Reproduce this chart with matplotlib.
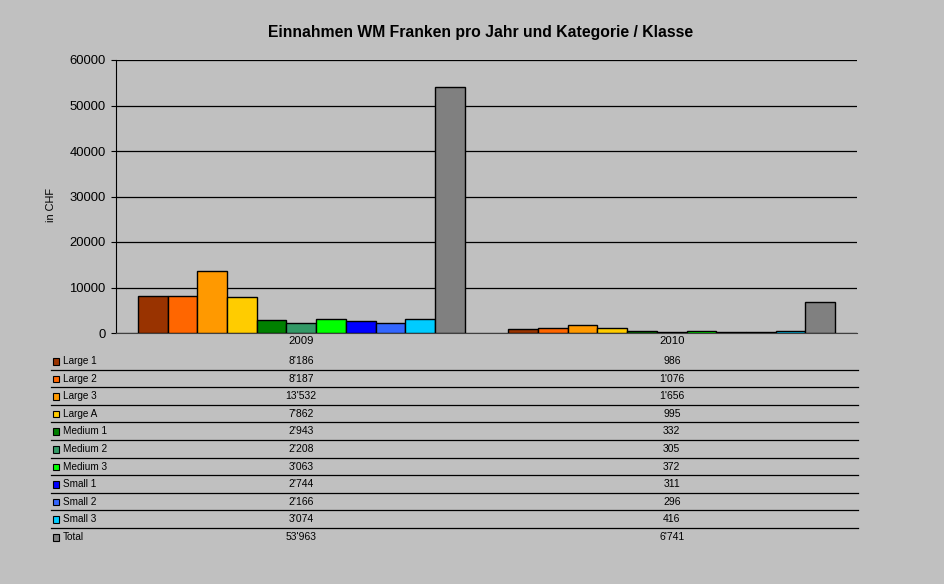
import matplotlib
matplotlib.use("Agg")
import matplotlib.pyplot as plt
from matplotlib.lines import Line2D
from matplotlib.patches import Rectangle
import matplotlib.transforms as mtransforms

plt.rcParams['font.family'] = ['Liberation Sans', 'DejaVu Sans']

years = ["2009", "2010"]
series = ["Large 1", "Large 2", "Large 3", "Large A", "Medium 1", "Medium 2",
          "Medium 3", "Small 1", "Small 2", "Small 3", "Total"]
values_2009 = [8186, 8187, 13532, 7862, 2943, 2208, 3063, 2744, 2166, 3074, 53963]
values_2010 = [986, 1076, 1656, 995, 332, 305, 372, 311, 296, 416, 6741]
colors = ["#993300", "#FF6600", "#FF9900", "#FFCC00", "#008000", "#339966",
          "#00FF00", "#0000FF", "#3366FF", "#00CCFF", "#808080"]
yticks = [0, 10000, 20000, 30000, 40000, 50000, 60000]

W, H = 944, 584
bg = "#C0C0C0"
fig = plt.figure(figsize=(W/100, H/100), dpi=100, facecolor=bg)
left, right, top, bottom = 116, 857, 60, 333
ax = fig.add_axes([left/W, 1-bottom/H, (right-left)/W, (bottom-top)/H])
ax.set_facecolor(bg)

n = len(series)
bw = 0.0802
for i in range(n):
    xs = [j + (i - (n-1)/2)*bw for j in range(len(years))]
    ax.bar(xs, [values_2009[i], values_2010[i]], width=bw, color=colors[i],
           edgecolor="black", linewidth=1.0, zorder=3)

ax.set_xlim(-0.5, 1.5)
ax.set_ylim(0, 60000)
ax.set_yticks(yticks)
ax.set_yticklabels([str(v) for v in yticks], fontsize=9.4)
ax.yaxis.grid(True, color="black", linewidth=0.9, zorder=0)
ax.set_axisbelow(True)
for s in ["top", "right"]:
    ax.spines[s].set_visible(False)
ax.spines["left"].set_color("black")
ax.spines["bottom"].set_color("#404040")
ax.tick_params(axis="y", length=3.5, width=0.8, pad=4, colors="black")
ax.set_xticks(range(len(years)))
ax.set_xticklabels(years, fontsize=8.2)
ax.tick_params(axis="x", length=0, pad=2)
ax.set_ylabel("in CHF", fontsize=7.9, va="center")
ax.yaxis.set_label_coords((51-left)/(right-left), (bottom-205)/(bottom-top))

fig.text(481/W, 1-33/H, "Einnahmen WM Franken pro Jahr und Kategorie / Klasse",
         ha="center", va="center", fontsize=11.3, fontweight="bold")

# data table
trans = mtransforms.blended_transform_factory(ax.transData, fig.transFigure)
row0 = 361.0
step = 17.6
for i in range(n):
    yc = row0 + i*step
    yf = 1 - yc/H
    fig.patches.append(Rectangle((53/W, 1-(yc+3.5)/H), 6.5/W, 6.5/H,
                                 transform=fig.transFigure, facecolor=colors[i],
                                 edgecolor="black", linewidth=0.8))
    fig.text(63/W, yf, series[i], ha="left", va="center", fontsize=7.2)
    for j, vals in enumerate([values_2009, values_2010]):
        ax.text(j, yf, f"{vals[i]:,}".replace(",", "'"), transform=trans,
                ha="center", va="center", fontsize=7.5, clip_on=False)
    if i < n-1:
        yl = 1 - (yc + 8.5)/H
        fig.add_artist(Line2D([51/W, 858/W], [yl, yl], color="black",
                              linewidth=0.9, transform=fig.transFigure))

fig.savefig("out.png", dpi=100, facecolor=bg)
